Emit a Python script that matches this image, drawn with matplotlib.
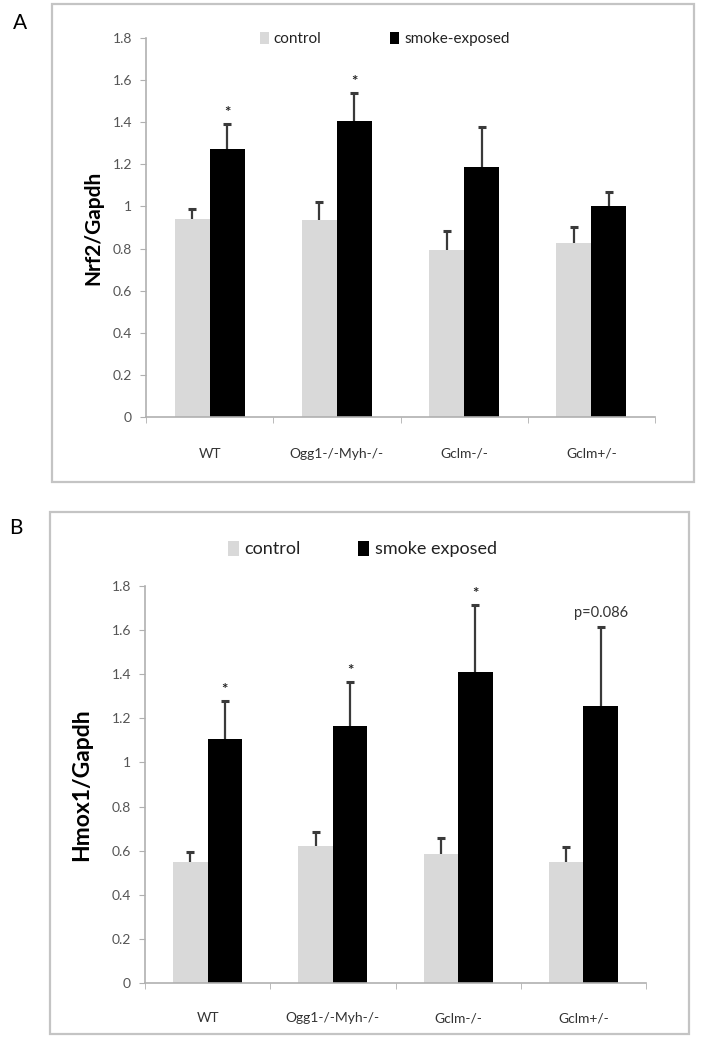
import matplotlib
matplotlib.use("Agg")
import matplotlib.pyplot as plt
from matplotlib.patches import Rectangle, Patch

plt.rcParams['font.family'] = ['Lato', 'DejaVu Sans']

groups = ["WT", "Ogg1-/-Myh-/-", "Gclm-/-", "Gclm+/-"]

# panel A: Nrf2/Gapdh
nrf2_control = [0.94, 0.935, 0.795, 0.825]
nrf2_control_err = [0.05, 0.085, 0.09, 0.075]
nrf2_smoke = [1.275, 1.405, 1.185, 1.0]
nrf2_smoke_err = [0.115, 0.135, 0.19, 0.07]
nrf2_marks = ["*", "*", "", ""]

# panel B: Hmox1/Gapdh
hmox_control = [0.547, 0.623, 0.587, 0.55]
hmox_control_err = [0.048, 0.06, 0.07, 0.065]
hmox_smoke = [1.105, 1.165, 1.41, 1.255]
hmox_smoke_err = [0.172, 0.2, 0.305, 0.36]
hmox_marks = ["*", "*", "*", "p=0.086"]

yticks = [0, 0.2, 0.4, 0.6, 0.8, 1.0, 1.2, 1.4, 1.6, 1.8]
ytick_labels = ["0", "0.2", "0.4", "0.6", "0.8", "1", "1.2", "1.4", "1.6", "1.8"]

W, H = 705, 1050
fig = plt.figure(figsize=(W / 100, H / 100), dpi=100)


def px(x0, y0, x1, y1):
    # pixel box -> figure fraction [left, bottom, width, height]
    return [x0 / W, 1 - y1 / H, (x1 - x0) / W, (y1 - y0) / H]


def upper_err(ax, x, y, err, color):
    n = len(x)
    eb = ax.errorbar(x, y, yerr=[[0] * n, err], fmt="none", ecolor=color,
                     elinewidth=1.6, capsize=3.2, capthick=2.2, zorder=3)
    eb[1][0].set_visible(False)  # only the upper cap


def panel(box, frame, ctrl, ctrl_err, smoke, smoke_err, marks, ylabel, ylab_x,
          ylab_size, legend_xy, legend_labels, legend_size, colspace, label_pad):
    ax = fig.add_axes(px(*box))
    n = len(groups)
    xs = list(range(n))
    w = 0.276
    xc = [x - 0.138 for x in xs]
    xsm = [x + 0.138 for x in xs]
    ax.bar(xc, ctrl, width=w, color="#d9d9d9", zorder=2)
    ax.bar(xsm, smoke, width=w, color="black", zorder=2)
    upper_err(ax, xc, ctrl, ctrl_err, "#3a3a3a")
    upper_err(ax, xsm, smoke, smoke_err, "#3a3a3a")
    for x, v, e, m in zip(xsm, smoke, smoke_err, marks):
        if m == "*":
            ax.annotate(m, (x, v + e), xytext=(0, 3), textcoords="offset points",
                        ha="center", va="bottom", fontsize=11, fontweight="bold",
                        color="#222222")
        elif m:
            ax.annotate(m, (x, v + e), xytext=(0, 5), textcoords="offset points",
                        ha="center", va="bottom", fontsize=10.5, color="#333333")
    ax.set_xlim(-0.5, n - 0.5)
    ax.set_ylim(0, 1.8)
    ax.set_yticks(yticks)
    ax.set_yticklabels(ytick_labels)
    ax.set_xticks(xs)
    ax.set_xticklabels(groups)
    ax.set_xticks([x - 0.5 for x in range(n + 1)], minor=True)
    ax.tick_params(axis="x", which="major", length=0, pad=label_pad,
                   labelsize=10, labelcolor="#333333")
    ax.tick_params(axis="x", which="minor", length=4, color="#b0b0b0", direction="out")
    ax.tick_params(axis="y", length=4, color="#b0b0b0", labelsize=10,
                   labelcolor="#555555", pad=6)
    for s in ["top", "right"]:
        ax.spines[s].set_visible(False)
    for s in ["left", "bottom"]:
        ax.spines[s].set_color("#b0b0b0")
        ax.spines[s].set_linewidth(1.2)
    ax.set_ylabel(ylabel, fontsize=ylab_size, fontweight="bold")
    ax.yaxis.set_label_coords(ylab_x, 0.5)

    fig.patches.append(Rectangle((frame[0] / W, 1 - frame[3] / H),
                                 (frame[2] - frame[0]) / W, (frame[3] - frame[1]) / H,
                                 transform=fig.transFigure, fill=False,
                                 edgecolor="#c4c4c4", linewidth=1.6))
    handles = [Patch(facecolor="#d9d9d9", edgecolor="none"),
               Patch(facecolor="black", edgecolor="none")]
    fig.legend(handles, legend_labels, loc="center left",
               bbox_to_anchor=(legend_xy[0] / W, 1 - legend_xy[1] / H),
               ncol=2, frameon=False, fontsize=legend_size, handlelength=0.6,
               handleheight=0.9, handletextpad=0.3, columnspacing=colspace,
               borderaxespad=0, borderpad=0, labelcolor="#222222")
    return ax


panel((146, 38, 655, 417), (52, 4, 694, 482), nrf2_control, nrf2_control_err,
      nrf2_smoke, nrf2_smoke_err, nrf2_marks, "Nrf2/Gapdh", -0.0845, 15,
      (260, 39), ["control", "smoke-exposed"], 11, 4.5, 22)
panel((145, 586, 646, 983), (50, 512, 689, 1034), hmox_control, hmox_control_err,
      hmox_smoke, hmox_smoke_err, hmox_marks, "Hmox1/Gapdh", -0.106, 16.5,
      (228, 549), ["control", "smoke exposed"], 13, 3.2, 21)

fig.text(20 / W, 1 - 23 / H, "A", fontsize=15, ha="center", va="center")
fig.text(16 / W, 1 - 528 / H, "B", fontsize=15, ha="center", va="center")

fig.savefig("out.png", dpi=100)
